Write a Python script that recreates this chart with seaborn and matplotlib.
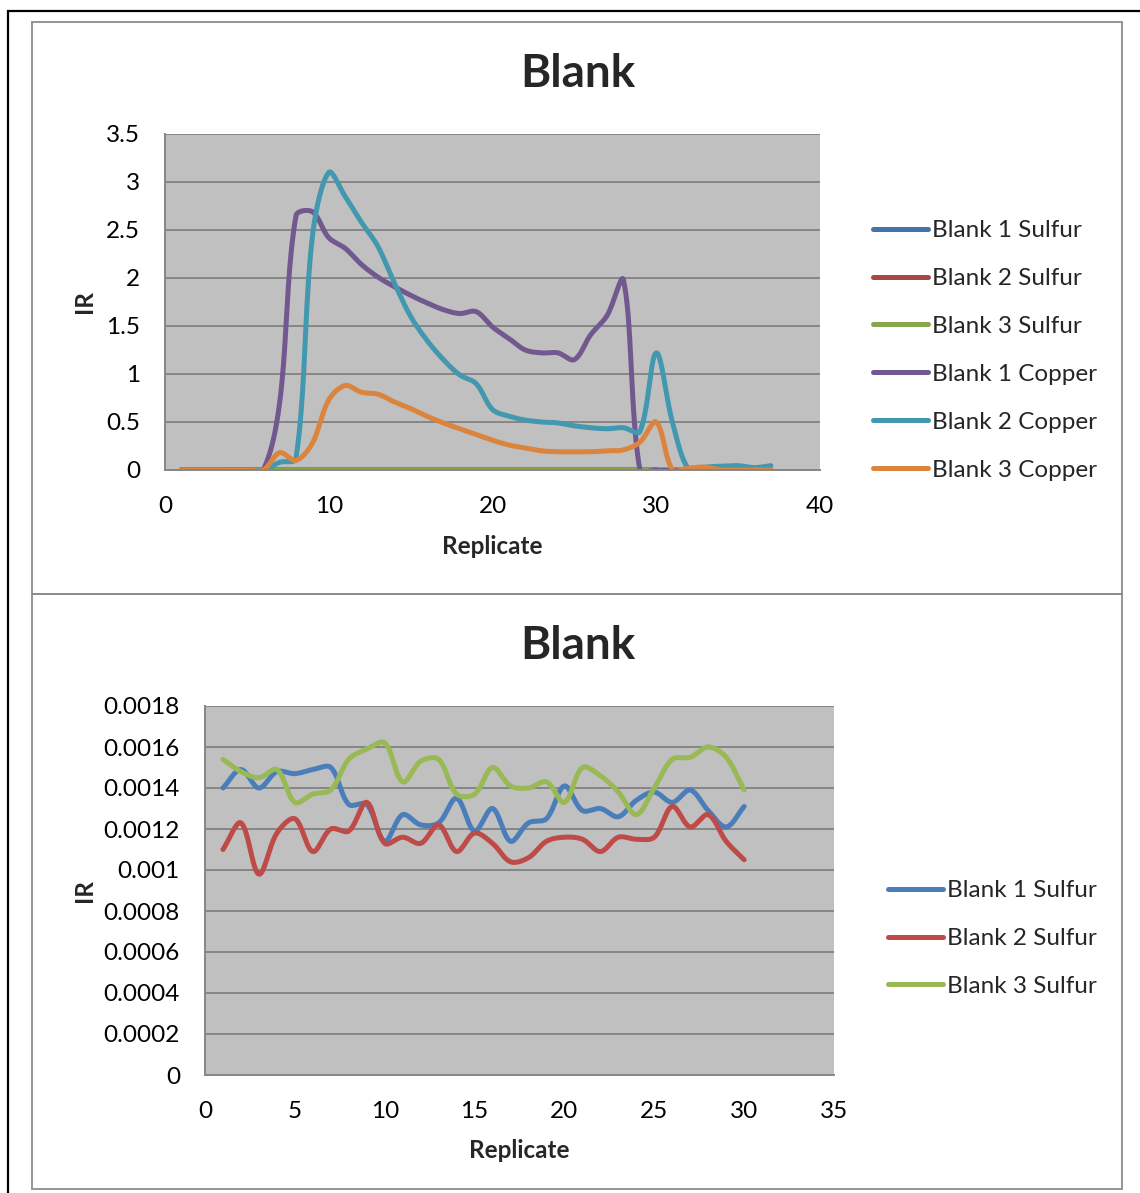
import numpy as np
import pandas as pd
import matplotlib
matplotlib.use("Agg")
import matplotlib.pyplot as plt
import seaborn as sns
from matplotlib.patches import Rectangle
from matplotlib.ticker import MultipleLocator, FuncFormatter

# ---- data ----
replicate_s = list(range(1, 31))
replicate_c = list(range(1, 38))

sulfur1 = [0.00140, 0.00149, 0.00140, 0.00148, 0.00147, 0.00149, 0.00150, 0.00132, 0.00132, 0.00114,
           0.00127, 0.00122, 0.00123, 0.00135, 0.00119, 0.00130, 0.00114, 0.00123, 0.00125, 0.00141,
           0.00129, 0.00130, 0.00126, 0.00134, 0.00138, 0.00133, 0.00139, 0.00129, 0.00121, 0.00131]
sulfur2 = [0.00110, 0.00123, 0.00098, 0.00118, 0.00125, 0.00109, 0.00120, 0.00119, 0.00133, 0.00113,
           0.00116, 0.00113, 0.00122, 0.00109, 0.00118, 0.00113, 0.00104, 0.00106, 0.00114, 0.00116,
           0.00115, 0.00109, 0.00116, 0.00115, 0.00116, 0.00131, 0.00121, 0.00127, 0.00114, 0.00105]
sulfur3 = [0.00154, 0.00148, 0.00145, 0.00149, 0.00133, 0.00137, 0.00139, 0.00154, 0.00159, 0.00162,
           0.00143, 0.00153, 0.00154, 0.00137, 0.00137, 0.00150, 0.00141, 0.00140, 0.00143, 0.00133,
           0.00150, 0.00146, 0.00138, 0.00127, 0.00140, 0.00154, 0.00155, 0.00160, 0.00155, 0.00139]

copper1 = [0, 0, 0, 0, 0, 0, 0.70, 2.65, 2.69, 2.42,
           2.31, 2.14, 2.01, 1.91, 1.82, 1.74, 1.67, 1.63, 1.65, 1.49,
           1.37, 1.25, 1.22, 1.22, 1.15, 1.41, 1.61, 1.98, 0, 0,
           0, 0, 0, 0, 0, 0, 0]
copper2 = [0, 0, 0, 0, 0, 0, 0.08, 0.12, 2.43, 3.10,
           2.85, 2.58, 2.33, 1.95, 1.60, 1.35, 1.15, 0.99, 0.90, 0.63,
           0.56, 0.52, 0.50, 0.49, 0.46, 0.44, 0.43, 0.44, 0.40, 1.22,
           0.49, 0, 0.03, 0.04, 0.045, 0.025, 0.045]
copper3 = [0, 0, 0, 0, 0, 0, 0.18, 0.10, 0.28, 0.73,
           0.88, 0.81, 0.79, 0.71, 0.64, 0.56, 0.49, 0.43, 0.37, 0.31,
           0.26, 0.23, 0.20, 0.19, 0.19, 0.19, 0.20, 0.21, 0.29, 0.50,
           0, 0.02, 0.03, 0, 0, 0, 0]

names_top = ["Blank 1 Sulfur", "Blank 2 Sulfur", "Blank 3 Sulfur",
             "Blank 1 Copper", "Blank 2 Copper", "Blank 3 Copper"]
names_bot = ["Blank 1 Sulfur", "Blank 2 Sulfur", "Blank 3 Sulfur"]

colors_top = ["#4572A7", "#AA4643", "#89A54E", "#71588F", "#4198AF", "#DB843D"]
colors_bot = ["#4A7EBB", "#BE4B48", "#98B954"]


def smooth(x, y, kx, ky, n=20):
    # excel-like smoothed line: bezier through the points, handles scaled
    # by the neighbouring segment lengths measured on screen (kx, ky = px per unit)
    x = np.asarray(x, float)
    y = np.asarray(y, float)
    X, Y = x * kx, y * ky
    m = len(x)
    seg = np.hypot(np.diff(X), np.diff(Y))
    cout = np.zeros((m, 2))
    cin = np.zeros((m, 2))
    for i in range(m):
        a = max(i - 1, 0)
        b = min(i + 1, m - 1)
        T = np.array([X[b] - X[a], Y[b] - Y[a]])
        dp = seg[i - 1] if i > 0 else 0.0
        dn = seg[i] if i < m - 1 else 0.0
        tot = dp + dn if dp + dn > 0 else 1.0
        cout[i] = [X[i], Y[i]] + T * (dn / tot) / 3.0
        cin[i] = [X[i], Y[i]] - T * (dp / tot) / 3.0
    t = np.linspace(0, 1, n, endpoint=False)[:, None]
    pts = []
    for i in range(m - 1):
        p1 = np.array([X[i], Y[i]])
        p2 = np.array([X[i + 1], Y[i + 1]])
        c1 = cout[i]
        c2 = cin[i + 1]
        pts.append((1 - t) ** 3 * p1 + 3 * (1 - t) ** 2 * t * c1
                   + 3 * (1 - t) * t ** 2 * c2 + t ** 3 * p2)
    pts.append(np.array([[X[-1], Y[-1]]]))
    pts = np.vstack(pts)
    return pts[:, 0] / kx, pts[:, 1] / ky


def long_df(xlist, series, names, kx, ky):
    frames = []
    for vals, name in zip(series, names):
        sx, sy = smooth(xlist[:len(vals)], vals, kx, ky)
        frames.append(pd.DataFrame({"Replicate": sx, "IR": sy, "series": name}))
    return pd.concat(frames, ignore_index=True)


sns.set_style("white")
plt.rcParams["font.family"] = ["Lato", "DejaVu Sans"]

W, H = 1140, 1193
fig = plt.figure(figsize=(W / 100, H / 100), dpi=100)


def fig_box(x0, y0, x1, y1):
    return [x0 / W, 1 - y1 / H, (x1 - x0) / W, (y1 - y0) / H]


# frames around the two charts
fig.patches.append(Rectangle((8 / W, -0.02), 1.1, 1 - 11 / H + 0.02, transform=fig.transFigure,
                             fill=False, edgecolor="black", lw=1.6))
for (x0, y0, x1, y1) in [(32, 22, 1122, 594), (32, 594, 1122, 1189)]:
    b = fig_box(x0, y0, x1, y1)
    fig.patches.append(Rectangle((b[0], b[1]), b[2], b[3], transform=fig.transFigure,
                                 fill=False, edgecolor="#8C8C8C", lw=1.3))

ax1 = fig.add_axes(fig_box(165, 134, 820, 470))
ax2 = fig.add_axes(fig_box(205, 706, 834, 1075))

top_df = long_df(replicate_c, [sulfur1, sulfur2, sulfur3, copper1, copper2, copper3], names_top,
                 655 / 40, 336 / 3.5)
bot_df = long_df(replicate_s, [sulfur1, sulfur2, sulfur3], names_bot,
                 629 / 35, 369 / 0.0018)

sns.lineplot(data=top_df, x="Replicate", y="IR", hue="series", hue_order=names_top,
             palette=colors_top, estimator=None, sort=False, lw=3.6, ax=ax1, legend=False)
sns.lineplot(data=bot_df, x="Replicate", y="IR", hue="series", hue_order=names_bot,
             palette=colors_bot, estimator=None, sort=False, lw=3.6, ax=ax2, legend=False)

fmt = FuncFormatter(lambda v, p: "%g" % round(v, 6))
FS = 17.5
setups = [
    (ax1, 0, 40, 10, 0, 3.5, 0.5, names_top, colors_top, (85 - 165) / 655, 546, 470, 336, 873, 229),
    (ax2, 0, 35, 5, 0, 0.0018, 0.0002, names_bot, colors_bot, (85 - 205) / 629, 1150, 1075, 369, 888, 889),
]
for (ax, x0, x1, xs, y0, y1, ys, names, cols, ylx, xl_y, ax_bot, ax_h, leg_x, leg_y) in setups:
    ax.set_facecolor("#C0C0C0")
    ax.set_xlim(x0, x1)
    ax.set_ylim(y0, y1)
    ax.xaxis.set_major_locator(MultipleLocator(xs))
    ax.yaxis.set_major_locator(MultipleLocator(ys))
    ax.yaxis.set_major_formatter(fmt)
    ax.grid(axis="y", color="#868686", lw=1.4)
    ax.set_axisbelow(True)
    for s in ["top", "right"]:
        ax.spines[s].set_visible(False)
    for s in ["left", "bottom"]:
        ax.spines[s].set_color("#868686")
        ax.spines[s].set_linewidth(1.4)
    ax.tick_params(axis="both", length=0, labelsize=FS, colors="black")
    ax.tick_params(axis="y", pad=18)
    ax.tick_params(axis="x", pad=19)
    ax.set_xlabel("Replicate", fontsize=FS, fontweight="bold")
    ax.set_ylabel("IR", fontsize=FS, fontweight="bold")
    ax.xaxis.label.set_va("center")
    ax.xaxis.set_label_coords(0.5, (ax_bot - xl_y) / ax_h)
    ax.yaxis.label.set_va("center")
    ax.yaxis.set_label_coords(ylx, 0.5)
    handles = [plt.Line2D([], [], color=c, lw=3.6, solid_capstyle="round") for c in cols]
    ax.legend(handles, names, loc="upper left", frameon=False, fontsize=FS,
              bbox_to_anchor=(leg_x / W, 1 - (leg_y - 9) / H), bbox_transform=fig.transFigure,
              borderpad=0, borderaxespad=0, handlelength=2.26, handletextpad=0.16,
              labelspacing=1.11)

fig.text(578 / W, 1 - 74 / H, "Blank", ha="center", va="center", fontsize=33, fontweight="bold")
fig.text(578 / W, 1 - 646 / H, "Blank", ha="center", va="center", fontsize=33, fontweight="bold")

fig.savefig("out.png", dpi=100)
